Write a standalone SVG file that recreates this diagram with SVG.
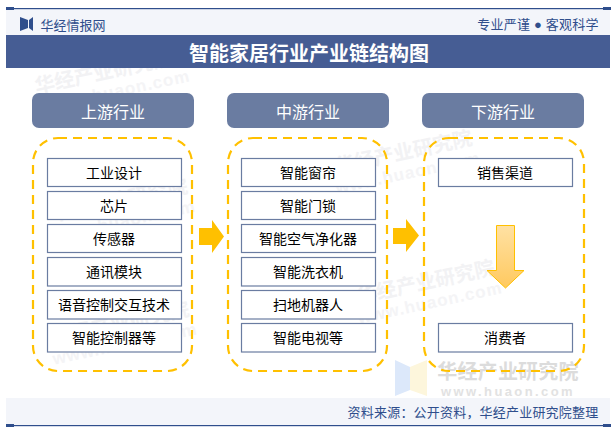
<svg xmlns="http://www.w3.org/2000/svg" width="614" height="432" viewBox="0 0 614 432">
<defs>
<linearGradient id="dg" x1="0" y1="0" x2="0" y2="1"><stop offset="0" stop-color="#ffe1a3"/><stop offset="1" stop-color="#ffc95f"/></linearGradient>
<g id="wm">
<polygon points="0,0 15,7 15,30 0,36" fill="#dce8fa"/><polygon points="15,7 32,0 32,36 15,30" fill="#fdf6dc"/>
</g>
</defs>
<style>
text{font-family:"Liberation Sans","Noto Sans CJK SC",sans-serif;text-anchor:middle}
.hd{fill:#6a7ca1}.hdt{fill:#fff;font-size:16px}
.dash{fill:none;stroke:#ffc000;stroke-width:2.2;stroke-dasharray:9 6}
.b{fill:#fff;stroke:#6a7ca1;stroke-width:1.2}
.t{fill:#000;font-size:14px}
.wt{fill:#f2f2f4;font-size:20px;font-weight:700}
.wu{fill:#f4f4f6;font-size:17px;font-weight:700;letter-spacing:1px}
.a{fill:#ffc000}
</style>
<rect width="614" height="432" fill="#fff"/>
<g id="watermarks">
<use href="#wm" x="395" y="360"/>
<text x="508" y="379" style="fill:#dcdcdc;font-size:20px;font-weight:700;letter-spacing:.2px">华经产业研究院</text>
<text x="508" y="396" style="fill:#e2e2e2;font-size:13px;font-weight:700;letter-spacing:2.4px">www.huaon.com</text>
<g transform="rotate(-12 100 80)"><text class="wt" x="105" y="80">华经产业研究院</text><text class="wu" x="115" y="100">www.huaon.com</text></g>
<g transform="rotate(-12 130 205)"><text class="wt" x="120" y="205">华经产业研究院</text><text class="wu" x="120" y="225">www.huaon.com</text></g>
<g transform="rotate(-12 130 320)"><text class="wt" x="120" y="328">华经产业研究院</text><text class="wu" x="120" y="348">www.huaon.com</text></g>
<g transform="rotate(-12 400 160)"><text class="wt" x="405" y="160">华经产业研究院</text><text class="wu" x="405" y="180">www.huaon.com</text></g>
<g transform="rotate(-12 420 280)"><text class="wt" x="425" y="290">华经产业研究院</text><text class="wu" x="425" y="310">www.huaon.com</text></g>
</g>
<g id="frame">
<rect x="6" y="9" width="604" height="26" fill="#f3f5fa"/>
<rect x="6" y="398" width="604" height="27" fill="#f3f5fa"/>
<rect x="6" y="8" width="604" height="1.2" fill="#2f4e8c"/>
<rect x="6" y="7" width="8" height="3" fill="#2f4e8c"/><rect x="603" y="7" width="8" height="3" fill="#2f4e8c"/>
<rect x="6" y="425" width="604" height="1.2" fill="#2f4e8c"/>
<rect x="6" y="424" width="8" height="3" fill="#2f4e8c"/><rect x="603" y="424" width="8" height="3" fill="#2f4e8c"/>
<rect x="6" y="35" width="604" height="33" fill="#465d94"/>
<polygon points="20,17 28,20 28,28 20,31" fill="#2f4e8c"/><polygon points="33,17 29,20 29,28 33,31" fill="#2f4e8c"/>
<text x="73" y="29.5" style="fill:#2f4e8c;font-size:13px">华经情报网</text>
<text x="538" y="29" style="fill:#2f4e8c;font-size:13px;letter-spacing:.2px">专业严谨 ● 客观科学</text>
<text x="309" y="61" style="fill:#fff;font-size:20px;font-weight:700;font-family:'Liberation Serif','Noto Sans CJK SC',sans-serif">智能家居行业产业链结构图</text>
<text x="473" y="417" style="fill:#2f4e8c;font-size:13px;letter-spacing:.2px">资料来源：公开资料，华经产业研究院整理</text>
</g>
<g id="col-up">
<rect class="hd" x="32" y="93" width="162" height="35" rx="7"/><text class="hdt" x="113" y="118">上游行业</text>
<rect class="dash" x="33" y="138" width="159" height="233" rx="25"/>
</g>
<g id="col-mid">
<rect class="hd" x="227" y="93" width="162" height="35" rx="7"/><text class="hdt" x="308" y="118">中游行业</text>
<rect class="dash" x="228" y="138" width="159" height="233" rx="25"/>
</g>
<g id="col-down">
<rect class="hd" x="422" y="93" width="162" height="35" rx="7"/><text class="hdt" x="503" y="118">下游行业</text>
<rect class="dash" x="424" y="138" width="160" height="233" rx="25"/>
</g>
<g id="n1"><rect class="b" x="47.5" y="158.5" width="134" height="28"/><text class="t" x="114" y="178">工业设计</text></g>
<g id="n2"><rect class="b" x="47.5" y="191.5" width="134" height="28"/><text class="t" x="114" y="211">芯片</text></g>
<g id="n3"><rect class="b" x="47.5" y="224.5" width="134" height="28"/><text class="t" x="114" y="244">传感器</text></g>
<g id="n4"><rect class="b" x="47.5" y="257.5" width="134" height="28.5"/><text class="t" x="114" y="277">通讯模块</text></g>
<g id="n5"><rect class="b" x="47.5" y="290.5" width="134" height="28.5"/><text class="t" x="114" y="310">语音控制交互技术</text></g>
<g id="n6"><rect class="b" x="47.5" y="323.5" width="134" height="28.5"/><text class="t" x="114" y="343">智能控制器等</text></g>
<g id="n7"><rect class="b" x="241.5" y="158.5" width="134" height="28"/><text class="t" x="308" y="178">智能窗帘</text></g>
<g id="n8"><rect class="b" x="241.5" y="191.5" width="134" height="28"/><text class="t" x="308" y="211">智能门锁</text></g>
<g id="n9"><rect class="b" x="241.5" y="224.5" width="134" height="28"/><text class="t" x="308" y="244">智能空气净化器</text></g>
<g id="n10"><rect class="b" x="241.5" y="257.5" width="134" height="28.5"/><text class="t" x="308" y="277">智能洗衣机</text></g>
<g id="n11"><rect class="b" x="241.5" y="290.5" width="134" height="28.5"/><text class="t" x="308" y="310">扫地机器人</text></g>
<g id="n12"><rect class="b" x="241.5" y="323.5" width="134" height="28.5"/><text class="t" x="308" y="343">智能电视等</text></g>
<g id="n13"><rect class="b" x="438.5" y="158.5" width="134" height="28"/><text class="t" x="505" y="178">销售渠道</text></g>
<g id="n14"><rect class="b" x="438.5" y="323.5" width="134" height="28.5"/><text class="t" x="505" y="343">消费者</text></g>
<g id="connectors">
<polygon class="a" points="199,228 212,228 212,220 224,236.5 212,253 212,245 199,245"/>
<polygon class="a" points="393,228 406,228 406,219 419,235.5 406,252 406,244 393,244"/>
<polygon points="496.5,225.5 514.5,225.5 514.5,270.5 524,270.5 505.5,288 487,270.5 496.5,270.5" fill="url(#dg)" stroke="#ffc000" stroke-width="1"/>
</g>
</svg>
